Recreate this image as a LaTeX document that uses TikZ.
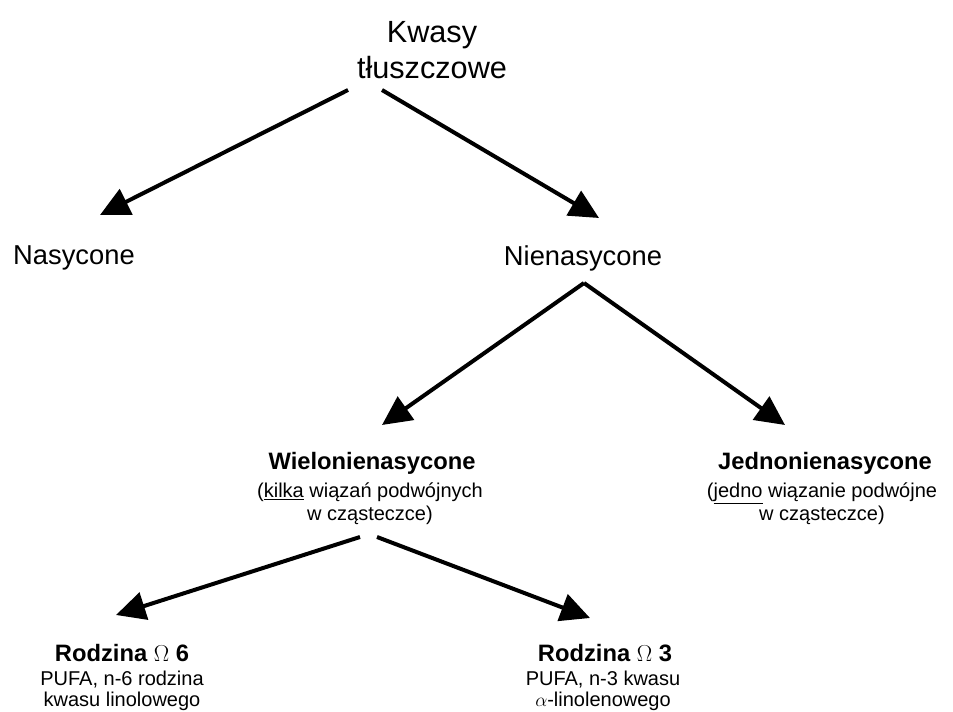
\documentclass[tikz,border=0pt]{standalone}
\usepackage{fontspec}
\setmainfont{Liberation Sans}
\usepackage{tikz}
\usetikzlibrary{arrows.meta,positioning,calc}

\begin{document}
\begin{tikzpicture}[
  x=0.75pt,y=-0.75pt,
  every node/.style={inner sep=0pt,align=center,text=black},
  big/.style={font=\fontsize{20.5pt}{24pt}\selectfont},
  head/.style={font=\fontsize{17.8pt}{21pt}\selectfont\bfseries},
  desc/.style={font=\fontsize{15pt}{17pt}\selectfont},
  arr/.style={line width=3pt,-{Triangle[length=22pt,width=21pt]}}
]
\useasboundingbox (0,0) rectangle (953,712);
\node[font=\fontsize{23pt}{27pt}\selectfont] (kw) at (432,50) {Kwasy\\tłuszczowe};
\node[big] (nas) at (74,258) {Nasycone};
\node[big] (nien) at (583,258) {Nienasycone};
\node[head] (wiel) at (372,463) {Wielonienasycone};
\node[desc] (wielopis) at (370,503.5) {(\underline{kilka} wiązań podwójnych\\w cząsteczce)};
\node[head] (jedn) at (825,463) {Jednonienasycone};
\node[desc] (jednopis) at (822,503.5) {(\underline{jedno} wiązanie podwójne\\w cząsteczce)};
\node[head] (r6) at (122,653) {Rodzina $\Omega$ 6};
\node[desc,font=\fontsize{15pt}{16pt}\selectfont] (r6opis) at (122,691) {PUFA, n-6 rodzina\\kwasu linolowego};
\node[head] (r3) at (605,653) {Rodzina $\Omega$ 3};
\node[desc,font=\fontsize{15pt}{16pt}\selectfont] (r3opis) at (603,691) {PUFA, n-3 kwasu\\$\alpha$-linolenowego};
% strzalki
\draw[arr] ($(kw)+(-84,40)$) -- ($(nas)+(26,-43)$);
\draw[arr] ($(kw)+(-50,40)$) -- ($(nien)+(16,-40)$);
\draw[arr] ($(nien)+(1,25)$) -- ($(wiel)+(10,-38)$);
\draw[arr] ($(nien)+(1,25)$) -- ($(jedn)+(-40,-38)$);
\draw[arr] ($(wielopis)+(-10,33.5)$) -- ($(r6)+(-6,-38)$);
\draw[arr] ($(wielopis)+(7,33.5)$) -- ($(r3)+(-15,-35)$);
\end{tikzpicture}
\end{document}
